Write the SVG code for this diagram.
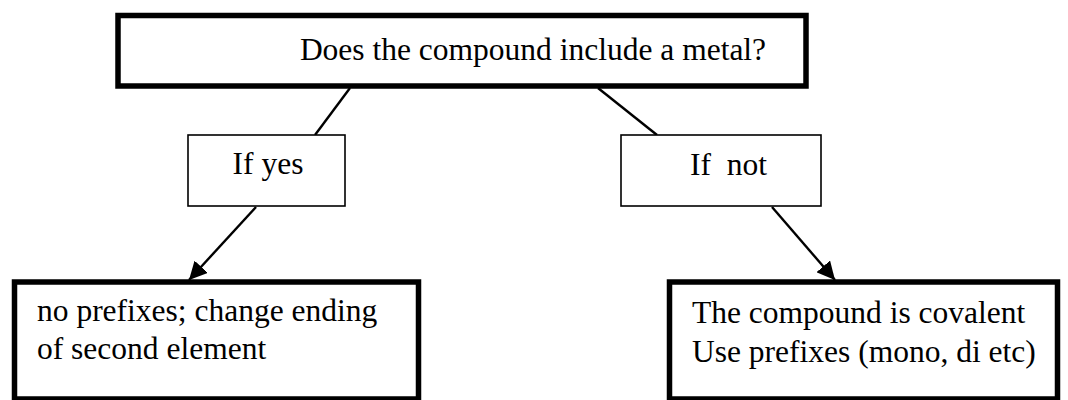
<svg xmlns="http://www.w3.org/2000/svg" width="1068" height="400" viewBox="0 0 1068 400">
<defs>
<style>
.thick{fill:#fff;stroke:#000;stroke-width:5.5}
.thin{fill:#fff;stroke:#000;stroke-width:1.6}
.t{font-family:"Liberation Serif","Times New Roman",serif;font-size:31.5px;fill:#000}
.c{text-anchor:middle}
.ln{stroke:#000;stroke-width:2.4;fill:none}
</style>
<marker id="ah" viewBox="0 0 10 10" refX="10" refY="5" markerWidth="7.5" markerHeight="7.5" markerUnits="strokeWidth" orient="auto">
<path d="M0,0 L10,5 L0,10 z" fill="#000"/>
</marker>
</defs>
<rect width="1068" height="400" fill="#fff"/>
<g id="connectors">
<line class="ln" x1="350" y1="88" x2="315" y2="135"/>
<line class="ln" x1="598" y1="88" x2="657" y2="135"/>
<line class="ln" x1="256" y1="207" x2="189" y2="280" marker-end="url(#ah)"/>
<line class="ln" x1="772" y1="207" x2="835" y2="280" marker-end="url(#ah)"/>
</g>
<g id="question">
<rect class="thick" x="118" y="15.5" width="688" height="70.5"/>
<text class="t c" x="533" y="60">Does the compound include a metal?</text>
</g>
<g id="ifyes">
<rect class="thin" x="188" y="135" width="157" height="71"/>
<text class="t c" x="268" y="174">If yes</text>
</g>
<g id="ifnot">
<rect class="thin" x="621" y="135" width="200" height="71"/>
<text class="t" x="690" y="175" xml:space="preserve">If  not</text>
</g>
<g id="ionic">
<rect class="thick" x="14.5" y="282" width="404" height="117"/>
<text class="t" x="37" y="321">no prefixes; change ending</text>
<text class="t" x="37" y="359">of second element</text>
</g>
<g id="covalent">
<rect class="thick" x="669.5" y="282" width="388" height="117"/>
<text class="t" x="692" y="323">The compound is covalent</text>
<text class="t" x="692" y="362">Use prefixes (mono, di etc)</text>
</g>
</svg>
